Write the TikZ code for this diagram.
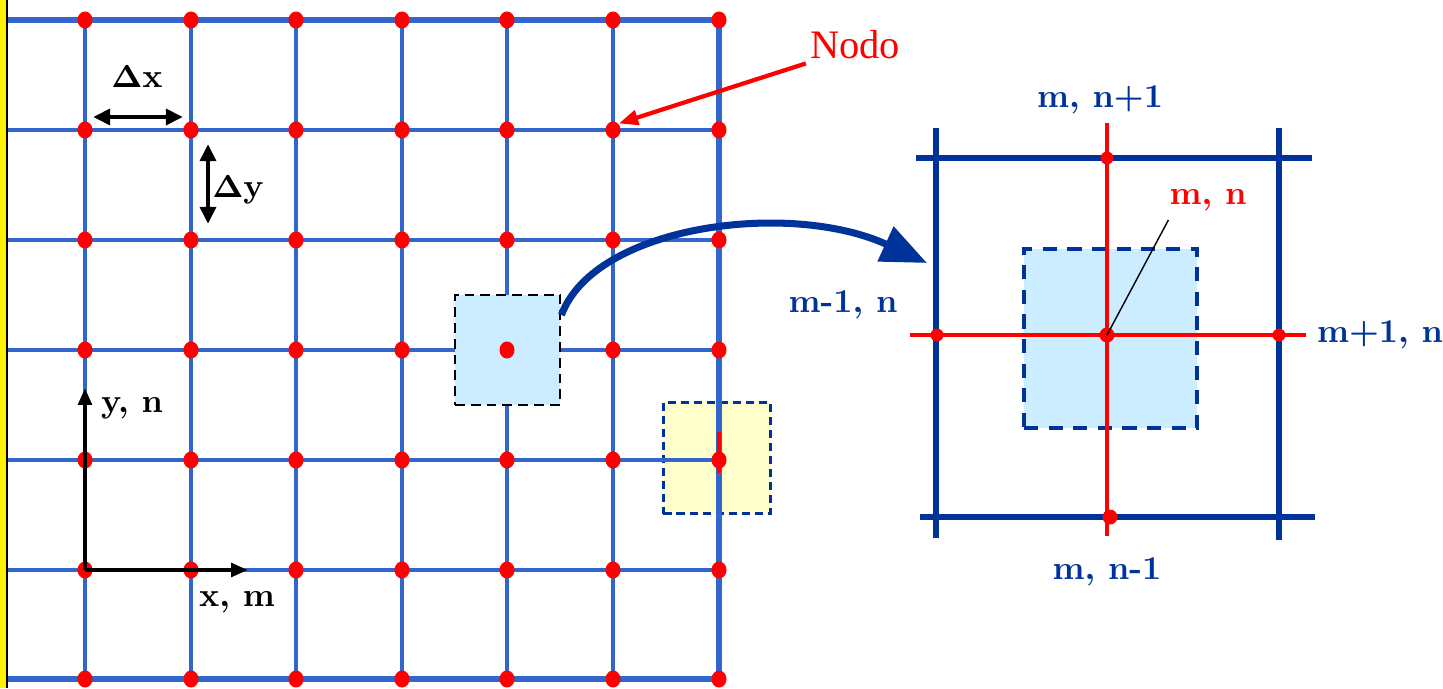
\documentclass[tikz,border=0pt]{standalone}
\usepackage[no-math]{fontspec}
\newfontfamily\nodofont{Liberation Serif}
\usetikzlibrary{arrows.meta,positioning,shapes.geometric,calc}
\definecolor{gridblue}{RGB}{51,102,204}
\definecolor{navy}{RGB}{0,51,153}
\definecolor{cellblue}{RGB}{204,236,255}
\definecolor{cellyellow}{RGB}{255,255,204}

\begin{document}
\begin{tikzpicture}[x=0.01cm, y=-0.01cm,
  gline/.style={draw=gridblue, line width=1.05pt},
  gframe/.style={draw=gridblue, line width=1.9pt},
  dot/.style={ellipse, fill=red, inner sep=0pt,
              minimum width=0.15cm, minimum height=0.17cm},
  sdot/.style={circle, fill=red, inner sep=0pt, minimum size=0.15cm},
  lbl/.style={font=\fontsize{9.5}{11}\selectfont\bfseries, inner sep=1pt},
  blbl/.style={lbl, text=navy},
  darr/.style={{Triangle[length=4.8pt,width=4.5pt]}-{Triangle[length=4.8pt,width=4.5pt]},
               line width=1.1pt},
  aarr/.style={-{Triangle[length=4.8pt,width=3.8pt]}, line width=1.2pt},
  nline/.style={draw=navy, line width=1.7pt},
  rline/.style={draw=red, line width=1.1pt}
]
\useasboundingbox (0,0) rectangle (1443,688);

% Left border strip
\fill[yellow] (0,0) rectangle (6,688);
\draw[black, line width=0.6pt] (7,0) -- (7,688);

% Boundary cell (under the grid)
\node[rectangle, fill=cellyellow, draw=navy, line width=0.7pt,
      dash pattern=on 2.3pt off 1.4pt, minimum width=1.07cm,
      minimum height=1.11cm] (bcell) at (717,458) {};

% Grid lines
\foreach \y in {130,240,350,460,570}
  \draw[gline] (8,\y) -- (719,\y);
\foreach \x in {85,191,296,402,507,613}
  \draw[gline] (\x,20) -- (\x,679);
\draw[gframe] (8,20) -- (722,20);
\draw[gframe] (8,679) -- (722,679);
\draw[gframe] (719,17) -- (719,682);
\draw[red, line width=1.1pt] (719,432) -- (719,473);

% Interior cell
\node[rectangle, fill=cellblue, draw=black, line width=0.8pt,
      dash pattern=on 2.8pt off 1.7pt, minimum width=1.05cm,
      minimum height=1.1cm] (cell) at (507.5,350) {};

% Grid nodes
\foreach \x [count=\i from 0] in {85,191,296,402,507,613,719}
  \foreach \y [count=\j from 0] in {20,130,240,350,460,570,679}
    \node[dot] (g-\i-\j) at (\x,\y) {};

% Spacing
\draw[darr] ([yshift=0.13cm]g-0-1.east) -- ([yshift=0.13cm]g-1-1.west);
\node[lbl] (dx) at (137,77) {$\mathbf{\Delta}$x};
\draw[darr, shorten <=0.05cm, shorten >=0.07cm]
  ([xshift=0.17cm]g-1-1.south) -- ([xshift=0.17cm]g-1-2.north);
\node[lbl] (dy) at (238,190) {$\mathbf{\Delta}$y};

% Axes
\coordinate (yend) at (85,388);
\coordinate (xend) at (248,570);
\draw[aarr] (g-0-5.center) -- (yend);
\draw[aarr] (g-0-5.center) -- (xend);
\node[lbl] (ylbl) at (132,408) {y, n};
\node[lbl] (xlbl) at (237,602) {x, m};

% Node label
\node[text=red, font=\nodofont\fontsize{11.5}{13}\selectfont, inner sep=1pt]
  (nodo) at (855,45) {Nodo};
\draw[red, line width=1.2pt, -{Triangle[length=5.5pt,width=4.2pt]}]
  (nodo.south west) -- (g-5-1.north east);

% Zoom arrow
\coordinate (ztip) at (927,263);
\draw[navy, line width=2pt, -{Triangle[length=13pt,width=10.5pt]}]
  (cell.33) .. controls (595,225) and (790,200) .. (ztip);

% Zoomed stencil
\node[rectangle, fill=cellblue, draw=navy, line width=1.1pt,
      dash pattern=on 4pt off 3pt, minimum width=1.73cm,
      minimum height=1.79cm] (zcell) at (1110.5,338.5) {};
\draw[nline] (916,158) -- (1312,158);
\draw[nline] (920,517) -- (1315,517);
\draw[nline] (936,128) -- (936,538);
\draw[nline] (1279,128) -- (1279,540);
\draw[rline] (910,335) -- (1306,335);
\draw[rline] (1107,123) -- (1107,536);

\node[sdot] (mn) at (1107,335) {};
\node[sdot, minimum size=0.13cm] (mw) at (937,335) {};
\node[sdot, minimum size=0.13cm] (me) at (1279,335) {};
\node[sdot, minimum size=0.13cm] (mup) at (1107,158) {};
\node[sdot] (mdown) at (1110,517) {};

% Stencil labels
\node[lbl, text=red] (mnlbl) at (1208,200) {m, n};
\draw[black, line width=0.4pt] (mn.center) -- ([xshift=0.03cm,yshift=-0.05cm]mnlbl.south west);
\node[blbl] (uplbl) at (1100,100) {m, n+1};
\node[blbl] (wlbl) at (843,305) {m-1, n};
\node[blbl] (elbl) at (1380,335) {m+1, n};
\node[blbl] (downlbl) at (1107,572) {m, n-1};
\end{tikzpicture}
\end{document}
